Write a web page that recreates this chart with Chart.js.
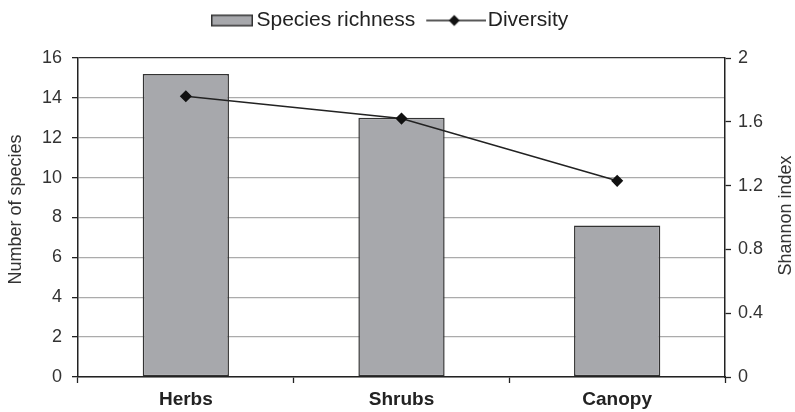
<!DOCTYPE html>
<html>
<head>
<meta charset="utf-8">
<script src="https://cdn.jsdelivr.net/npm/chart.js@4/dist/chart.umd.min.js"></script>
<style>
  html, body { margin: 0; padding: 0; background: #fff; }
  #wrap { width: 795px; height: 412px; }
</style>
</head>
<body>
<div id="wrap"><canvas id="c" width="795" height="412"></canvas></div>
<script>
// ---- data ----
const categories = ['Herbs', 'Shrubs', 'Canopy'];
const speciesRichness = [15.2, 13.0, 7.6];
const diversity = [1.76, 1.62, 1.23];
const leftTicks = [0, 2, 4, 6, 8, 10, 12, 14, 16];
const rightTicks = [0, 0.4, 0.8, 1.2, 1.6, 2];

// ---- fonts ----
const baseFont = '"Liberation Sans", Arial, sans-serif';
const legendFont = { family: baseFont, size: 21 };

// ---- legend swatches ----
const PSW = 52;
function barSwatch() {
  const cv = document.createElement('canvas');
  cv.width = 66; cv.height = 14;
  const g = cv.getContext('2d');
  g.fillStyle = '#a7a8ac'; g.strokeStyle = '#333'; g.lineWidth = 1.5;
  g.fillRect(24.75, 1.75, 40.5, 10.5);
  g.strokeRect(24.75, 1.75, 40.5, 10.5);
  return cv;
}
function lineSwatch() {
  const cv = document.createElement('canvas');
  cv.width = 70; cv.height = 14;
  const g = cv.getContext('2d');
  g.strokeStyle = '#222'; g.lineWidth = 1.5;
  g.beginPath(); g.moveTo(10, 7); g.lineTo(70, 7); g.stroke();
  g.fillStyle = '#111';
  const cx = 38;
  g.beginPath(); g.moveTo(cx, 1.5); g.lineTo(cx + 5.5, 7); g.lineTo(cx, 12.5); g.lineTo(cx - 5.5, 7); g.closePath(); g.fill();
  return cv;
}

function drawVTitle(g, text, x, y) {
  g.save();
  g.fillStyle = '#333';
  g.font = '18px ' + baseFont;
  g.textAlign = 'center';
  g.textBaseline = 'middle';
  g.translate(x, y);
  g.rotate(-Math.PI / 2);
  g.fillText(text, 0, 0);
  g.restore();
}

const layoutPlugin = {
  id: 'layoutTweaks',
  beforeInit(chart) {
    const lg = chart.legend;
    if (lg) {
      const orig = lg.fit.bind(lg);
      lg.fit = function () { orig(); this.height = 58; };
    }
  },
  afterLayout(chart) {
    if (chart.legend) { chart.legend.left = 184; }
  },
  afterDraw(chart) {
    const g = chart.ctx;
    const yl = chart.scales.y;
    const yr = chart.scales.y2;
    drawVTitle(g, 'Number of species', yl.left + 16, (yl.top + yl.bottom) / 2 - 8);
    drawVTitle(g, 'Shannon index', yr.right - 9, (yr.top + yr.bottom) / 2 - 2);
  }
};

new Chart(document.getElementById('c'), {
  data: {
    labels: categories,
    datasets: [
      {
        type: 'line',
        label: 'Diversity',
        data: diversity,
        yAxisID: 'y2',
        borderColor: '#222',
        borderWidth: 1.5,
        pointStyle: 'rectRot',
        pointRadius: 5,
        pointBackgroundColor: '#111',
        pointBorderColor: '#111',
        tension: 0,
        order: 0
      },
      {
        type: 'bar',
        label: 'Species richness',
        data: speciesRichness,
        yAxisID: 'y',
        backgroundColor: '#a7a8ac',
        borderColor: '#333',
        borderWidth: 1.5,
        borderSkipped: false,
        barPercentage: 0.4,
        categoryPercentage: 1.0,
        order: 1
      }
    ]
  },
  options: {
    responsive: false,
    devicePixelRatio: 1,
    animation: false,
    layout: { padding: 0 },
    plugins: {
      tooltip: { enabled: false },
      legend: {
        position: 'top',
        align: 'start',
        labels: {
          usePointStyle: true,
          pointStyleWidth: PSW,
          padding: 10,
          color: '#222',
          font: legendFont,
          generateLabels(chart) {
            return [
              { text: 'Species richness', pointStyle: barSwatch(), datasetIndex: 1, hidden: false, fontColor: '#222', lineWidth: 0, strokeStyle: 'rgba(0,0,0,0)', fillStyle: 'rgba(0,0,0,0)' },
              { text: 'Diversity', pointStyle: lineSwatch(), datasetIndex: 0, hidden: false, fontColor: '#222', lineWidth: 0, strokeStyle: 'rgba(0,0,0,0)', fillStyle: 'rgba(0,0,0,0)' }
            ];
          }
        }
      }
    },
    scales: {
      x: {
        type: 'category',
        offset: true,
        afterFit(s) { s.height = 35; },
        grid: {
          offset: true,
          drawOnChartArea: false,
          drawTicks: true,
          tickLength: 6,
          tickColor: '#222',
          tickWidth: 1.3
        },
        border: { display: true, color: '#222', width: 1.5 },
        ticks: {
          color: '#222',
          padding: 5,
          font: { family: baseFont, size: 19, weight: 'bold' }
        }
      },
      y: {
        position: 'left',
        min: 0,
        max: 16,
        afterFit(s) { s.width = 78; },
        afterBuildTicks(s) { s.ticks = leftTicks.map(v => ({ value: v })); },
        grid: {
          color: (c) => (c.tick && c.tick.value === 16) ? '#333' : '#ababab',
          lineWidth: 1.3,
          drawTicks: true,
          tickLength: 6,
          tickColor: '#222',
          tickWidth: 1.3
        },
        border: { display: true, color: '#222', width: 1.5 },
        ticks: {
          color: '#333',
          padding: 10,
          font: { family: baseFont, size: 18 }
        },
        title: { display: false }
      },
      y2: {
        position: 'right',
        min: 0,
        max: 2,
        afterFit(s) { s.width = 70; },
        afterBuildTicks(s) { s.ticks = rightTicks.map(v => ({ value: v })); },
        grid: {
          drawOnChartArea: false,
          drawTicks: true,
          tickLength: 6,
          tickColor: '#222',
          tickWidth: 1.3
        },
        border: { display: true, color: '#222', width: 1.5 },
        ticks: {
          color: '#333',
          padding: 7,
          font: { family: baseFont, size: 18 },
          callback: (v) => String(v)
        }
      }
    }
  },
  plugins: [layoutPlugin]
});
</script>
</body>
</html>
